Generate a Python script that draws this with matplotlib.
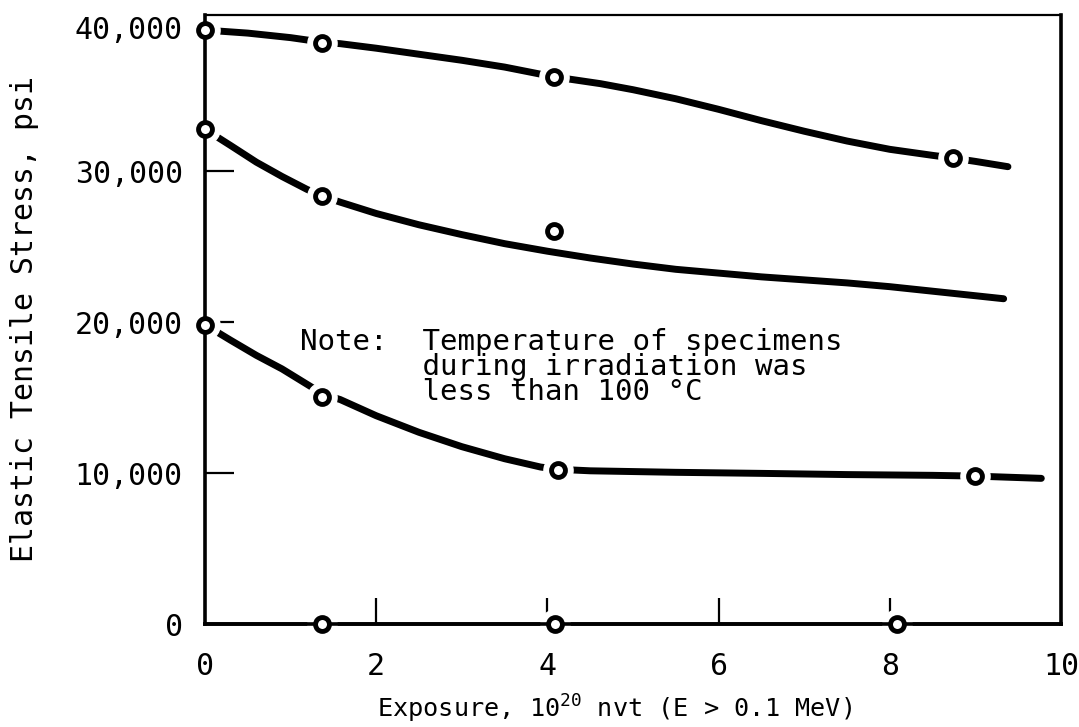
import matplotlib
matplotlib.use("Agg")
import matplotlib.pyplot as plt
import matplotlib.transforms as mtransforms

# ---- data ----
# measured points (open circles)
top_pts_x = [0.0, 1.37, 4.08, 8.74]
top_pts_y = [39330, 38470, 36220, 30870]
mid_pts_x = [0.0, 1.37, 4.08]
mid_pts_y = [32780, 28350, 26040]
low_pts_x = [0.0, 1.37, 4.12, 9.0]
low_pts_y = [19830, 15070, 10180, 9780]
zero_pts_x = [1.37, 4.09, 8.08]
zero_pts_y = [0, 0, 0]

# hand-drawn curves
top_curve_x = [0.0, 0.5, 1.0, 1.37, 1.58, 2.0, 2.5, 3.0, 3.5, 4.08, 4.62, 5.0, 5.5,
               6.0, 6.5, 7.0, 7.5, 8.0, 8.5, 8.74, 9.0, 9.38]
top_curve_y = [39350, 39150, 38850, 38550, 38450, 38150, 37750, 37350, 36900, 36250,
               35800, 35400, 34800, 34100, 33350, 32650, 32000, 31450, 31050, 30870,
               30650, 30300]
mid_curve_x = [0.0, 0.3, 0.6, 0.9, 1.19, 1.37, 1.58, 2.0, 2.5, 3.0, 3.5, 4.0, 4.5,
               5.0, 5.5, 6.0, 6.5, 7.0, 7.5, 8.0, 8.5, 9.0, 9.33]
mid_curve_y = [32780, 31700, 30600, 29650, 28800, 28350, 27950, 27200, 26450, 25800,
               25200, 24700, 24250, 23850, 23500, 23250, 23000, 22800, 22600, 22350,
               22050, 21750, 21550]
low_curve_x = [0.0, 0.3, 0.6, 0.9, 1.23, 1.37, 1.58, 2.0, 2.5, 3.0, 3.5, 3.92, 4.12,
               4.5, 5.5, 6.5, 7.5, 8.5, 9.0, 9.77]
low_curve_y = [19830, 18800, 17800, 16900, 15750, 15250, 14870, 13800, 12700, 11750,
               10950, 10400, 10250, 10150, 10050, 9980, 9900, 9850, 9800, 9650]

x_ticks = [0, 2, 4, 6, 8, 10]
x_tick_labels = ["0", "2", "4", "6", "8", "10"]
y_ticks = [0, 10000, 20000, 30000, 40000]
y_tick_labels = ["0", "10,000", "20,000", "30,000", "40,000"]

xlabel = r"Exposure, 10$^{\mathregular{20}}$ nvt (E > 0.1 MeV)"
ylabel = "Elastic Tensile Stress, psi"
note = ("Note:  Temperature of specimens\n"
        "       during irradiation was\n"
        "       less than 100 °C")

# ---- figure ----
FONT = "DejaVu Sans Mono"
plt.rcParams["font.family"] = [FONT, "DejaVu Sans"]
plt.rcParams["mathtext.fontset"] = "custom"
plt.rcParams["mathtext.rm"] = FONT

W, H = 1079, 727
fig = plt.figure(figsize=(W / 100, H / 100), dpi=100)
ax = fig.add_axes([205 / W, 1 - 624 / H, (1061 - 205) / W, (624 - 15) / H])
ax.set_xlim(0, 10)
ax.set_ylim(0, 40350)

for cx, cy in [(top_curve_x, top_curve_y), (mid_curve_x, mid_curve_y), (low_curve_x, low_curve_y)]:
    ax.plot(cx, cy, color="black", lw=5, solid_capstyle="round",
            solid_joinstyle="round", zorder=2.0, clip_on=False)

ax.plot([0, 10], [0, 0], color="black", lw=2.6, zorder=2.0, clip_on=False)

for px, py in [(top_pts_x, top_pts_y), (mid_pts_x, mid_pts_y), (low_pts_x, low_pts_y),
               (zero_pts_x, zero_pts_y)]:
    # white halo to leave gaps in the curves around the circles
    ax.plot(px, py, linestyle="none", marker="o", ms=21, mfc="white", mec="white",
            zorder=2.2, clip_on=False)
    ax.plot(px, py, linestyle="none", marker="o", ms=10, mfc="white", mec="black",
            mew=3.5, zorder=3, clip_on=False)

# spines
for side in ["left", "right", "bottom"]:
    ax.spines[side].set_linewidth(2.6)
ax.spines["top"].set_linewidth(1.6)
for s in ax.spines.values():
    s.set_zorder(2.5)

ax.set_xticks(x_ticks)
ax.set_xticklabels(x_tick_labels)
ax.set_yticks(y_ticks)
ax.set_yticklabels(y_tick_labels)
ax.tick_params(axis="both", direction="in", labelsize=21.5, width=1.6)
ax.tick_params(axis="x", length=19, pad=20)
ax.tick_params(axis="y", length=21, pad=16)
for i in (0, len(x_ticks) - 1):
    ax.xaxis.get_major_ticks()[i].tick1line.set_visible(False)
for i in (0, len(y_ticks) - 1):
    ax.yaxis.get_major_ticks()[i].tick1line.set_visible(False)
# the hand-lettered top label sits a little lower than the 40,000 level
top_lab = ax.yaxis.get_major_ticks()[-1].label1
top_lab.set_transform(top_lab.get_transform()
                      + mtransforms.ScaledTranslation(0, -7 / 100, fig.dpi_scale_trans))

ax.set_xlabel(xlabel, fontsize=18.2)
ax.xaxis.set_label_coords(0.478, -0.113)
ax.set_ylabel(ylabel, fontsize=21.5)
ax.yaxis.set_label_coords(-0.194, 0.5)

ax.text(1.11, 19630, note, fontsize=21, va="top", ha="left", linespacing=0.87,
        transform=ax.transData)

fig.savefig("out.png", dpi=100)
